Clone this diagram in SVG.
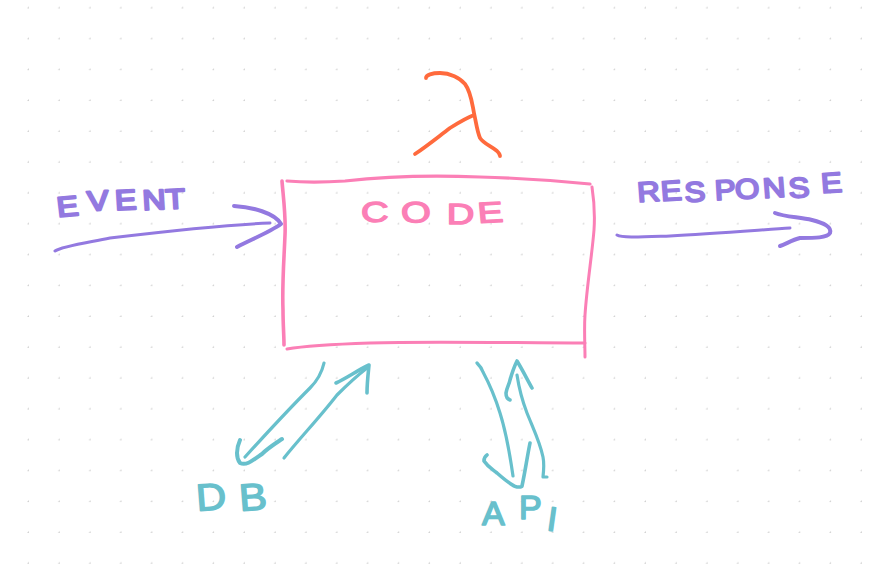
<svg xmlns="http://www.w3.org/2000/svg" width="890" height="571" viewBox="0 0 890 571">
<style>
.s{fill:none;stroke-linecap:round;stroke-linejoin:round}
.p{stroke:#9379e0}.t{stroke:#68c0cc}.k{stroke:#fb7fb6}.o{stroke:#ff6a3d}
text{font-family:"Liberation Sans",Arial,sans-serif;stroke-linejoin:round;stroke-linecap:round}
.tp{fill:#9379e0;stroke:#9379e0}.tt{fill:#68c0cc;stroke:#68c0cc}.tk{fill:#fb7fb6;stroke:#fb7fb6}
</style>
<defs>
<pattern id="dots" x="28" y="7.5" width="30.85" height="30.85" patternUnits="userSpaceOnUse">
<rect x="-0.5" y="-0.5" width="1.5" height="1.5" fill="#d0d0d0"/>
<rect x="30.35" y="-0.5" width="1" height="1.5" fill="#d0d0d0"/>
<rect x="-0.5" y="30.35" width="1.5" height="1" fill="#d0d0d0"/>
</pattern>
</defs>
<rect width="890" height="571" fill="#ffffff"/>
<rect width="890" height="571" fill="url(#dots)"/>
<g id="connectors">
<g id="event-arrow">
<path class="s p" stroke-width="3" d="M55 251C62 246 85 243 110 238C160 232 220 225 270 223"/>
<path class="s p" stroke-width="4" d="M234 206C252 207 275 213 281 224C270 232 250 240 237 247"/>
</g>
<g id="response-arrow">
<path class="s p" stroke-width="3" d="M617 235C622 238 640 237 670 236C710 234 760 230 790 228"/>
<path class="s p" stroke-width="4" d="M775 213C785 217 800 217 812 220C824 223 832 227 830 233C827 238 815 238 800 238C792 240 786 244 780 246"/>
</g>
<g id="db-arrows">
<path class="s t" stroke-width="3.2" d="M324 363C322 372 318 380 310 388C290 408 265 435 245 457"/>
<path class="s t" stroke-width="4" d="M240 440C236 449 236 458 240 463C246 466 252 461 262 454C268 448 276 443 282 439"/>
<path class="s t" stroke-width="3.2" d="M284 458C300 438 320 417 337 395C347 385 358 375 367 368"/>
<path class="s t" stroke-width="3.6" d="M336 383C347 378 358 370 369 365C368 375 367 384 367 393"/>
</g>
<g id="api-arrows">
<path class="s t" stroke-width="3.2" d="M477 363C480 366 482 369 483 372C490 385 496 400 500 413C506 432 510 455 513 476"/>
<path class="s t" stroke-width="3.6" d="M487 455C484 457 484 459 484 461C488 467 492 469 497 473C505 480 512 486 517 487C520 487 522 487 522 486C525 472 527 458 530 443"/>
<path class="s t" stroke-width="3.2" d="M547 477L543 477C544 468 544 462 543 457C540 442 533 428 527 413C522 400 519 388 517 375"/>
<path class="s t" stroke-width="3.6" d="M510 400C507 399 506 396 506 393C507 387 509 385 510 380C512 373 515 365 517 361C522 369 527 379 532 388"/>
</g>
</g>
<g id="node-lambda">
<path class="s o" stroke-width="3.8" d="M426 78C426 75 432 73 440 73C450 73 460 78 465 84C471 92 472 103 474 113C476 122 477 131 480 138C484 144 491 146 497 151C499 153 500 155 500 156"/>
<path class="s o" stroke-width="3.8" d="M474 115C466 118 458 123 450 128C438 137 427 146 415 154"/>
</g>
<g id="node-code">
<path class="s k" stroke-width="3.2" d="M287 181C310 183 330 182 345 181C380 177 430 175 480 177C520 178 560 181 590 184"/>
<path class="s k" stroke-width="3.6" d="M282 181C283 195 286 215 285 235C284 260 282 285 283 310C283 325 284 335 284 345"/>
<path class="s k" stroke-width="3" d="M287 349C310 345 340 344 370 343C430 341 520 343 585 343"/>
<path class="s k" stroke-width="3" d="M592 187C594 200 595 215 594 230C592 255 587 285 585 315C584 330 585 345 585 357"/>
<text class="tk" font-size="29" stroke-width="1.4" transform="translate(361 0) scale(1.32 1)" x="0 31 65 89" y="222 223 224 223" rotate="0 -4 0 -4">CODE</text>
</g>
<g id="node-event">
<text class="tp" font-size="28" stroke-width="2.2" transform="translate(58 0) scale(1.15 1)" x="0 26 50 74 94" y="217 211 210 210 209" rotate="-6 -4 -3 -3 -3">EVENT</text>
</g>
<g id="node-response">
<text class="tp" font-size="28" stroke-width="2" transform="translate(638 0) scale(1.12 1)" x="0 21 42 69 87 112 135 164" y="202 201 202 200 199 198 198 193" rotate="-4 -4 -3 -3 -3 -4 -4 -4">RESPONSE</text>
</g>
<g id="node-db">
<text class="tt" font-size="38" stroke-width="1.4" transform="translate(197 0) scale(1.1 1)" x="0 39" y="511 511" rotate="-4 -4">DB</text>
</g>
<g id="node-api">
<text class="tt" font-size="34" stroke-width="1.6" x="482 519 546" y="525 519 530" rotate="0 0 8">API</text>
</g>
</svg>
